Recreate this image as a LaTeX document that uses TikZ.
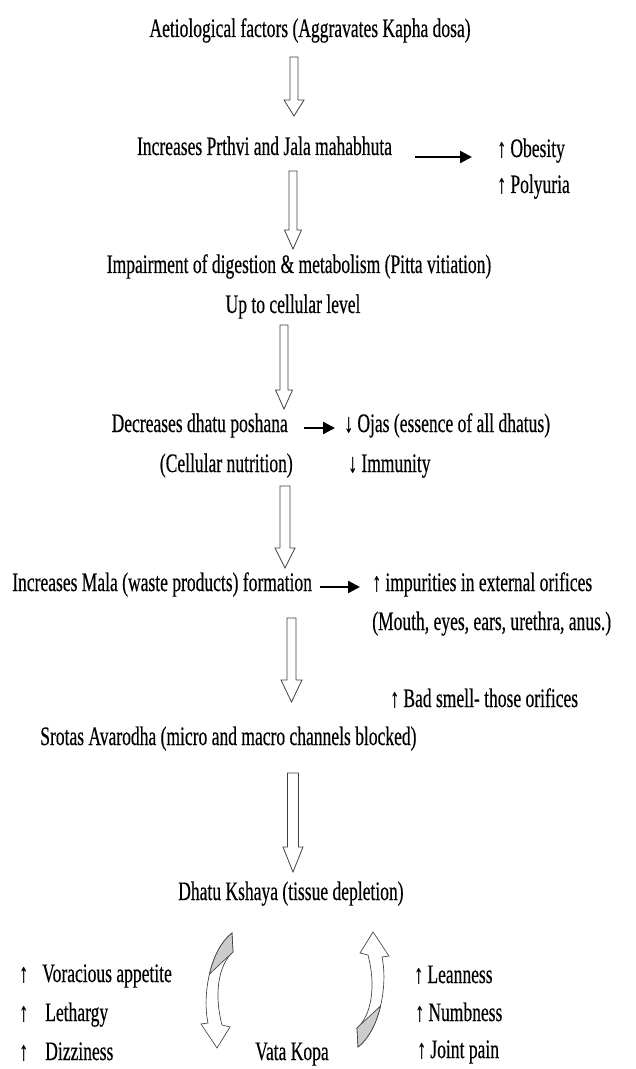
\documentclass[tikz,border=0pt]{standalone}
\usepackage{fontspec}
\setmainfont{Liberation Serif}[FakeStretch=0.657,FakeBold=0.4]
\usetikzlibrary{arrows.meta}
\newcommand\blockarr[6]{% x, top, headstart, tip, shaft half, head half
  \draw[blk] (#1-#5,#2) -- (#1+#5,#2) -- (#1+#5,#3) -- (#1+#6,#3) -- (#1,#4)
    -- (#1-#6,#3) -- (#1-#5,#3) -- cycle;}
\begin{document}
\begin{tikzpicture}[x=0.75pt,y=-0.75pt,
  txt/.style={inner sep=0pt, font=\fontsize{20}{24}\selectfont},
  blk/.style={draw=black!75, fill=white, line width=0.6pt, line join=miter},
  harrow/.style={line width=1.8pt, -{Triangle[length=9pt,width=9pt]}},
  cface/.style={draw=black!75, fill=white, line width=0.5pt, line join=miter},
  cback/.style={draw=black!75, fill=black!20, line width=0.5pt, line join=miter}]
\useasboundingbox (0,0) rectangle (635,1069);

% main chain
\node[txt, anchor=base] (t1) at (310,37) {Aetiological factors (Aggravates Kapha dosa)};
\node[txt, anchor=base] (t2) at (264.5,155) {Increases Prthvi and Jala mahabhuta};
\node[txt, anchor=base] (t3a) at (299,273) {Impairment of digestion \& metabolism (Pitta vitiation)};
\node[txt, anchor=base] (t3b) at (293,313) {Up to cellular level};
\node[txt, anchor=base east] (t4a) at (288,432) {Decreases dhatu poshana};
\node[txt, anchor=base east] (t4b) at (293,472) {(Cellular nutrition)};
\node[txt, anchor=base west] (t5) at (12,591) {Increases Mala (waste products) formation};
\node[txt, anchor=base west] (t6) at (40,745) {Srotas Avarodha (micro and macro channels blocked)};
\node[txt, anchor=base west] (t7) at (178,900) {Dhatu Kshaya (tissue depletion)};

% side effects
\node[txt, anchor=base west] (ob) at (497,157) {↑ Obesity};
\node[txt, anchor=base west] (po) at (497,193) {↑ Polyuria};
\node[txt, anchor=base west] (oj) at (344,432) {↓ Ojas (essence of all dhatus)};
\node[txt, anchor=base west] (im) at (348,472) {↓ Immunity};
\node[txt, anchor=base west] (ip) at (372,591) {↑ impurities in external orifices};
\node[txt, anchor=base west] (mo) at (372,630) {(Mouth, eyes, ears, urethra, anus.)};
\node[txt, anchor=base west] (bs) at (390,707) {↑ Bad smell- those orifices};

% bottom lists
\node[txt, anchor=base west] (la1) at (19,982) {↑};
\node[txt, anchor=base west] (la2) at (19,1021) {↑};
\node[txt, anchor=base west] (la3) at (19,1060) {↑};
\node[txt, anchor=base west] (l1) at (42,982) {Voracious appetite};
\node[txt, anchor=base west] (l2) at (45,1021) {Lethargy};
\node[txt, anchor=base west] (l3) at (45,1060) {Dizziness};
\node[txt, anchor=base west] (vk) at (255,1060) {Vata Kopa};
\node[txt, anchor=base west] (r1) at (414,983) {↑ Leanness};
\node[txt, anchor=base west] (r2) at (415,1021) {↑ Numbness};
\node[txt, anchor=base west] (r3) at (417,1058) {↑ Joint pain};

% block arrows
\blockarr{294}{57}{100}{116}{4}{10}
\blockarr{293}{171}{230}{249}{4}{8.5}
\blockarr{284}{325}{390}{409}{4}{8.5}
\blockarr{285}{486}{548}{568}{5}{10}
\blockarr{291.5}{618}{680}{702}{4.5}{10.5}
\blockarr{293}{773}{847}{872}{5.5}{10}

% horizontal arrows
\coordinate (h1s) at (415,157); \coordinate (h1e) at (472,157);
\coordinate (h2s) at (304,428); \coordinate (h2e) at (335,428);
\coordinate (h3s) at (320,587); \coordinate (h3e) at (360,587);
\draw[harrow] (h1s) -- (h1e);
\draw[harrow] (h2s) -- (h2e);
\draw[harrow] (h3s) -- (h3e);

% curved arrows (right one, and the left one as its half-turn)
\foreach \ang in {0,180}{
\begin{scope}[rotate around={\ang:(295,990)}]
  \draw[cface] (373,932) -- (389,956) -- (382,957)
     .. controls (388,985) and (380,1030) .. (358,1047)
     -- (357,1028) .. controls (372,1015) and (376,985) .. (368,955)
     -- (360,953) -- cycle;
  \draw[cback] (357,1028) -- (380.5,1006)
     .. controls (376.5,1023) and (369,1038.5) .. (358,1047) -- cycle;
\end{scope}}
\end{tikzpicture}
\end{document}
